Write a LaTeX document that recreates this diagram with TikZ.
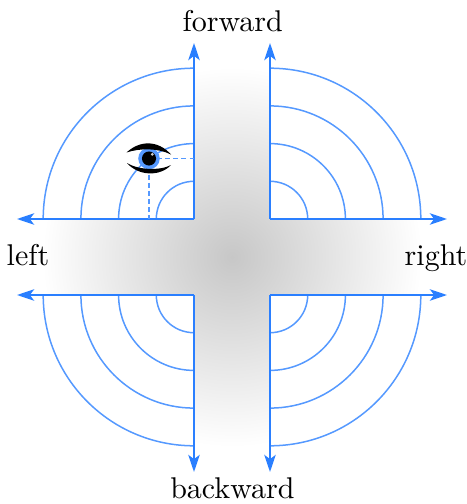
\documentclass[tikz,border=0pt]{standalone}
\usetikzlibrary{arrows.meta}
\definecolor{axisblue}{HTML}{2A7FFF}
\definecolor{arcblue}{HTML}{5599FF}
\tikzset{
  x=0.33333pt,y=-0.33333pt,
  axisline/.style={draw=axisblue,line width=0.75pt,-{Stealth[length=5.7pt,width=3.8pt,inset=1.4pt]}},
  arcline/.style={draw=arcblue,line width=0.5pt},
  guide/.style={draw=arcblue,line width=0.5pt,dash pattern=on 1.6pt off 1.1pt},
  lbl/.style={anchor=base,inner sep=0pt,text=black},
}
\begin{document}
\begin{tikzpicture}
\useasboundingbox (0,0) rectangle (467,504);
% gradient cross
\begin{scope}
\clip (194,43) -- (270,43) -- (270,219) -- (447,219) -- (447,295) -- (270,295) -- (270,471) -- (194,471) -- (194,295) -- (17,295) -- (17,219) -- (194,219) -- cycle;
\shade[inner color=black!22,outer color=white] (42,67) rectangle (422,447);
\end{scope}
% arcs
\foreach \r in {37.7,75.4,113.1,150.8}{
  \draw[arcline] (194,219-\r) arc[start angle=90,end angle=180,radius=\r*0.33333pt];
  \draw[arcline] (270,219-\r) arc[start angle=90,end angle=0,radius=\r*0.33333pt];
  \draw[arcline] (194,295+\r) arc[start angle=-90,end angle=-180,radius=\r*0.33333pt];
  \draw[arcline] (270,295+\r) arc[start angle=-90,end angle=0,radius=\r*0.33333pt];
}
% corners and arrow ends
\coordinate (tl) at (194,219);
\coordinate (tr) at (270,219);
\coordinate (bl) at (194,295);
\coordinate (br) at (270,295);
\coordinate (tlu) at (194,43);
\coordinate (tll) at (17,219);
\coordinate (tru) at (270,43);
\coordinate (trr) at (447,219);
\coordinate (bld) at (194,472);
\coordinate (bll) at (17,295);
\coordinate (brd) at (270,472);
\coordinate (brr) at (447,295);
\draw[axisline] (tl) -- (tlu);
\draw[axisline] (tl) -- (tll);
\draw[axisline] (tr) -- (tru);
\draw[axisline] (tr) -- (trr);
\draw[axisline] (bl) -- (bld);
\draw[axisline] (bl) -- (bll);
\draw[axisline] (br) -- (brd);
\draw[axisline] (br) -- (brr);
% eye guides
\coordinate (eye) at (149,158.5);
\coordinate (eyex) at (194,158.5);
\coordinate (eyey) at (149,219);
\draw[guide] (eye) -- (eyex);
\draw[guide] (eye) -- (eyey);
% eye
\fill[arcblue] (eye) circle[radius=3.6pt];
\fill[black] (eye) circle[radius=2.35pt];
\fill[white,opacity=.8] (152.3,154.3) circle[radius=0.5pt];
\fill[black] (126.5,152.5) .. controls (140,140) and (158,140) .. (171,154.5) .. controls (158,148) and (140,148) .. cycle;
\fill[black] (127,163) .. controls (138,176) and (160,177) .. (171,165) .. controls (160,171) and (138,170) .. cycle;
% labels
\node[lbl] (forward) at (232.7,31) {forward};
\node[lbl] (backward) at (232.4,498) {backward};
\node[lbl] (left) at (28,265) {left};
\node[lbl] (right) at (436,265) {right};
\end{tikzpicture}
\end{document}
